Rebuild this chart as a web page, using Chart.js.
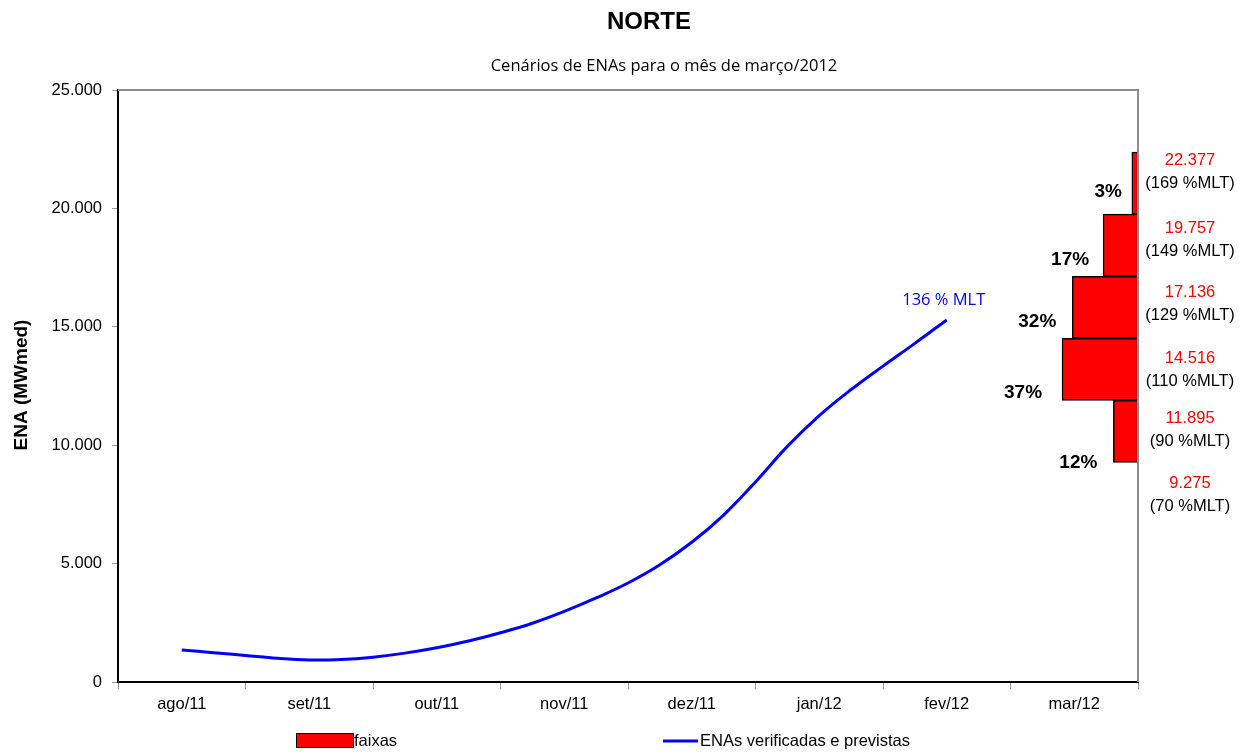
<!DOCTYPE html>
<html>
<head>
<meta charset="utf-8">
<script src="https://cdn.jsdelivr.net/npm/chart.js@4.4.1/dist/chart.umd.min.js"></script>
<style>
html,body{margin:0;padding:0;background:#fff;}
#wrap{width:1245px;height:754px;position:relative;}
</style>
</head>
<body>
<div id="wrap"><canvas id="c" width="1245" height="754"></canvas></div>
<script>
// ---- data ----
const months = ['ago/11','set/11','out/11','nov/11','dez/11','jan/12','fev/12','mar/12'];
// x in month units (0.5 = centre of ago/11), y in MWmed
const lineX = [0.5,0.75,1.0,1.25,1.5,1.75,2.0,2.25,2.5,2.75,3.0,3.25,3.5,3.75,4.0,4.25,4.5,4.75,5.0,5.25,5.5,5.75,6.0,6.25,6.5];
const lineY = [1350,1240,1120,1000,930,950,1050,1220,1450,1730,2080,2480,2980,3550,4180,4950,5900,7050,8450,9950,11250,12350,13340,14300,15290];
const binEdges = [9275,11895,14516,17136,19757,22377];
const binPct = [12,37,32,17,3];
const edgeMLT = ['(70 %MLT)','(90 %MLT)','(110 %MLT)','(129 %MLT)','(149 %MLT)','(169 %MLT)'];
const yTicks = [0,5000,10000,15000,20000,25000];
const titleText = 'NORTE';
const subtitleText = 'Cenários de ENAs para o mês de março/2012';
const endLabel = '136 % MLT';
const yTitle = 'ENA (MWmed)';
const legendBar = 'faixas';
const legendLine = 'ENAs verificadas e previstas';

// ---- helpers ----
const fmt = v => String(Math.round(v)).replace(/\B(?=(\d{3})+(?!\d))/g, '.');
const PCT_W = 0.0161; // month-units per percent
const lineData = lineX.map((x, i) => ({x: x, y: lineY[i]}));
const barData = binPct.map((p, i) => ({
  y: (binEdges[i] + binEdges[i + 1]) / 2,
  x: [months.length - p * PCT_W, months.length]
}));

const ARIAL = 'Liberation Sans, Arial, sans-serif';
const CAL = 'Open Sans, Lato, sans-serif';

const textPlugin = {
  id: 'texts',
  afterDraw(chart) {
    const ctx = chart.ctx;
    const ca = chart.chartArea;
    const xs = chart.scales.xl, ys = chart.scales.y;
    ctx.save();
    // top/right gray frame
    ctx.strokeStyle = '#8c8c8c';
    ctx.lineWidth = 2;
    ctx.beginPath();
    ctx.moveTo(ca.left, ca.top);
    ctx.lineTo(ca.right, ca.top);
    ctx.lineTo(ca.right, ca.bottom);
    ctx.stroke();

    // titles
    ctx.fillStyle = '#000';
    ctx.textAlign = 'center';
    ctx.textBaseline = 'middle';
    ctx.font = 'bold 24px ' + ARIAL;
    ctx.fillText(titleText, 649, 22);
    ctx.font = '16.5px ' + CAL;
    ctx.fillText(subtitleText, 664, 66);

    // y title
    ctx.save();
    ctx.translate(22, 385);
    ctx.rotate(-Math.PI / 2);
    ctx.font = 'bold 19px ' + ARIAL;
    ctx.fillText(yTitle, 0, 0);
    ctx.restore();

    // end label of line
    const lx = xs.getPixelForValue(lineX[lineX.length - 1]);
    const ly = ys.getPixelForValue(lineY[lineY.length - 1]);
    ctx.fillStyle = '#0000ff';
    ctx.font = '16.5px ' + CAL;
    ctx.fillText(endLabel, lx - 3, ly - 20);

    // percentage labels
    const pdx = [-16, -20, -16, -14, -10];
    const pdy = [31, 23, 15, 15, 9];
    ctx.font = 'bold 19px ' + ARIAL;
    ctx.fillStyle = '#000';
    ctx.textAlign = 'right';
    binPct.forEach((p, i) => {
      const left = xs.getPixelForValue(months.length - p * PCT_W);
      const cy = ys.getPixelForValue((binEdges[i] + binEdges[i + 1]) / 2);
      ctx.fillText(p + '%', left + pdx[i], cy + pdy[i]);
    });

    // edge labels
    const edy = [21, 18, 20, 16, 14, 8];
    ctx.textAlign = 'center';
    ctx.font = '16.5px ' + ARIAL;
    binEdges.forEach((e, i) => {
      const py = ys.getPixelForValue(e);
      ctx.fillStyle = '#ff0000';
      ctx.fillText(fmt(e), ca.right + 52, py + edy[i]);
      ctx.fillStyle = '#000';
      ctx.fillText(edgeMLT[i], ca.right + 52, py + edy[i] + 23);
    });

    // legend
    ctx.fillStyle = '#ff0000';
    ctx.fillRect(296, 733, 57, 14);
    ctx.strokeStyle = '#000';
    ctx.lineWidth = 1;
    ctx.strokeRect(296.5, 733.5, 57, 14);
    ctx.fillStyle = '#000';
    ctx.textAlign = 'left';
    ctx.font = '16.5px ' + ARIAL;
    ctx.fillText(legendBar, 354, 741);
    ctx.strokeStyle = '#0000ff';
    ctx.lineWidth = 3;
    ctx.beginPath();
    ctx.moveTo(663, 741);
    ctx.lineTo(698, 741);
    ctx.stroke();
    ctx.fillText(legendLine, 700, 741);
    ctx.restore();
  }
};

new Chart(document.getElementById('c'), {
  type: 'line',
  data: {
    labels: months,
    datasets: [
      {
        type: 'bar',
        label: legendBar,
        indexAxis: 'y',
        xAxisID: 'xl',
        yAxisID: 'y',
        data: barData,
        backgroundColor: '#ff0000',
        borderColor: '#000000',
        borderWidth: 1.5,
        borderSkipped: false,
        barPercentage: 1,
        categoryPercentage: 1,
        grouped: false
      },
      {
        type: 'line',
        label: legendLine,
        xAxisID: 'xl',
        yAxisID: 'y',
        data: lineData,
        borderColor: '#0000ff',
        borderWidth: 3,
        pointRadius: 0,
        fill: false,
        tension: 0.4
      }
    ]
  },
  options: {
    responsive: false,
    animation: false,
    devicePixelRatio: 1,
    layout: {padding: {left: 0, right: 107, top: 90, bottom: 32}},
    plugins: {
      legend: {display: false},
      title: {display: false},
      tooltip: {enabled: false}
    },
    scales: {
      x: {
        type: 'category',
        labels: months,
        offset: true,
        position: 'bottom',
        grid: {offset: true, drawOnChartArea: false, drawTicks: true, tickLength: 7, color: '#999', lineWidth: 1},
        border: {display: true, color: '#000', width: 2},
        ticks: {font: {family: ARIAL, size: 16.5}, color: '#000', padding: 6, maxRotation: 0, autoSkip: false},
        afterFit: s => { s.height = 40; }
      },
      xl: {type: 'linear', min: 0, max: months.length, display: false, offset: false, grid: {offset: false}},
      y: {
        type: 'linear',
        position: 'left',
        min: 0,
        max: 25000,
        offset: false,
        afterBuildTicks: s => { s.ticks = yTicks.map(v => ({value: v})); },
        ticks: {callback: v => fmt(v), font: {family: ARIAL, size: 16.5}, color: '#000', padding: 10},
        grid: {offset: false, drawOnChartArea: false, drawTicks: true, tickLength: 6, color: '#999', lineWidth: 1},
        border: {display: true, color: '#000', width: 2},
        afterFit: s => { s.width = 118; }
      }
    }
  },
  plugins: [textPlugin]
});
</script>
</body>
</html>
